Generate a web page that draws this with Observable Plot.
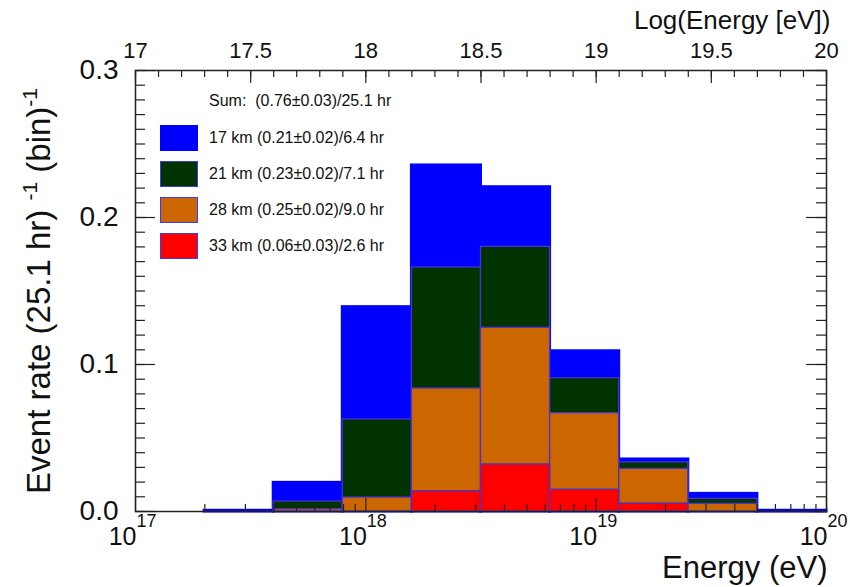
<!DOCTYPE html>
<html><head><meta charset="utf-8">
<script src="https://cdn.jsdelivr.net/npm/d3@7"></script>
<script src="https://cdn.jsdelivr.net/npm/@observablehq/plot@0.6"></script>
<style>
body{margin:0;background:#fff;font-family:"Liberation Sans",Arial,sans-serif;}
#wrap{position:relative;width:850px;height:587px;}
.lg{position:absolute;font-size:16px;color:#111;white-space:pre;line-height:1;}
.sw{position:absolute;width:38px;height:26px;box-sizing:border-box;border:1px solid #3a3aff;}
</style></head><body><div id="wrap"></div>
<script>
// ---- data ----
const binLo = [17.3, 17.6, 17.9, 18.2, 18.5, 18.8, 19.1, 19.4, 19.7]; // log10(E) lower edges
const binWidth = 0.3;
const seriesNames = ["17 km", "21 km", "28 km", "33 km"];
const seriesLabels = ["17 km (0.21\u00b10.02)/6.4 hr", "21 km (0.23\u00b10.02)/7.1 hr", "28 km (0.25\u00b10.02)/9.0 hr", "33 km (0.06\u00b10.03)/2.6 hr"];
const sumLabel = "Sum:  (0.76\u00b10.03)/25.1 hr";
const rate17 = [0.0005, 0.0127, 0.0764, 0.0694, 0.0406, 0.0183, 0.0020, 0.0034, 0.0005];
const rate21 = [0, 0.0053, 0.0531, 0.0823, 0.0550, 0.0238, 0.0044, 0.0034, 0];
const rate28 = [0, 0.0015, 0.0095, 0.0699, 0.0930, 0.0521, 0.0236, 0.0052, 0];
const rate33 = [0, 0, 0, 0.0138, 0.0320, 0.0148, 0.0054, 0, 0];
const seriesColors = ["#0000ff", "#003300", "#cc6600", "#ff0000"];
const topTickValues = [17, 17.5, 18, 18.5, 19, 19.5, 20];
const topTickLabels = ["17", "17.5", "18", "18.5", "19", "19.5", "20"];
const yTickValues = [0, 0.1, 0.2, 0.3];
const yTickLabels = ["0.0", "0.1", "0.2", "0.3"];
const decades = [17, 18, 19, 20];
const decadeExponents = ["17", "18", "19", "20"];

// ---- cumulative (overlaid histograms, as drawn) ----
const rates = [rate17, rate21, rate28, rate33];
const cum = rates.map((r, i) => r.map((_, j) => d3.sum(rates.slice(i), s => s[j])));
const rows = [];
seriesNames.forEach((s, i) => binLo.forEach((lo, j) => {
  if (cum[i][j] > 0) rows.push({series: s, idx: i, lo, hi: lo + binWidth, top: cum[i][j]});
}));

// tick positions
const bottomMinor = [], bottomMajor = [];
for (let n = 17; n <= 19; n++) for (let m = 2; m <= 9; m++) bottomMinor.push(m * 10 ** n);
decades.forEach(d => bottomMajor.push(10 ** d));
const topMinor = d3.range(170, 201).map(v => 10 ** (v / 10));
const topMajor = topTickValues.map(v => 10 ** v);
const yMinor = d3.range(0, 31).map(v => v / 100);

const W = 850, H = 587, mL = 135, mR = 24, mT = 70, mB = 76;
const fw = W - mL - mR, fh = H - mT - mB;
const ink = "#222";

const chart = Plot.plot({
  width: W, height: H, marginLeft: mL, marginRight: mR, marginTop: mT, marginBottom: mB,
  style: {fontFamily: "'Liberation Sans', Arial, sans-serif", color: "#111", background: "#fff"},
  x: {type: "log", domain: [1e17, 1e20], axis: null},
  y: {domain: [0, 0.3], axis: null},
  marks: [
    ...seriesNames.map((s, i) => Plot.rect(rows.filter(r => r.idx === i), {
      x1: d => 10 ** d.lo, x2: d => 10 ** d.hi, y1: 0, y2: "top",
      fill: seriesColors[i], stroke: i === 0 ? "#0000ff" : "#4433cc", strokeWidth: i === 0 ? 3 : 1.3
    })),
    Plot.frame({stroke: ink, strokeWidth: 1.5}),
    Plot.tickX(bottomMinor, {x: d => d, insetTop: fh - 7, stroke: ink, strokeWidth: 1.2}),
    Plot.tickX(bottomMajor, {x: d => d, insetTop: fh - 13, stroke: ink, strokeWidth: 1.2}),
    Plot.tickX(topMinor, {x: d => d, insetBottom: fh - 7, stroke: ink, strokeWidth: 1.2}),
    Plot.tickX(topMajor, {x: d => d, insetBottom: fh - 13, stroke: ink, strokeWidth: 1.2}),
    Plot.tickY(yMinor, {y: d => d, insetRight: fw - 10, stroke: ink, strokeWidth: 1.2}),
    Plot.tickY(yTickValues, {y: d => d, insetRight: fw - 20, stroke: ink, strokeWidth: 1.2}),
    Plot.tickY(yMinor, {y: d => d, insetLeft: fw - 10, stroke: ink, strokeWidth: 1.2}),
    Plot.tickY(yTickValues, {y: d => d, insetLeft: fw - 20, stroke: ink, strokeWidth: 1.2}),
    Plot.text(yTickValues, {y: d => d, text: (d, i) => yTickLabels[i], frameAnchor: "left", dx: -17, textAnchor: "end", lineAnchor: "middle", fontSize: 28}),
    Plot.text(topTickValues, {x: d => 10 ** d, text: (d, i) => topTickLabels[i], frameAnchor: "top", dy: -20, textAnchor: "middle", lineAnchor: "middle", fontSize: 22}),
    Plot.text(decades, {x: d => 10 ** d, text: () => "10", frameAnchor: "bottom", dy: 25, dx: 1, textAnchor: "end", lineAnchor: "middle", fontSize: 25}),
    Plot.text(decades, {x: d => 10 ** d, text: (d, i) => decadeExponents[i], frameAnchor: "bottom", dy: 10, dx: 1, textAnchor: "start", lineAnchor: "middle", fontSize: 18}),
    Plot.text(["Energy (eV)"], {frameAnchor: "bottom-right", dy: 57, dx: 1, textAnchor: "end", lineAnchor: "middle", fontSize: 31}),
    Plot.text(["Log(Energy [eV])"], {frameAnchor: "top-right", dy: -50, dx: 4, textAnchor: "end", lineAnchor: "middle", fontSize: 26}),
    Plot.text(["Event rate (25.1 hr)"], {frameAnchor: "left", rotate: -90, dx: -96, dy: 0, textAnchor: "middle", lineAnchor: "middle", fontSize: 33})
  ]
});

// superscripts in the y label
d3.select(chart).selectAll("text").filter(function() { return this.textContent === "Event rate (25.1 hr)"; })
  .each(function() {
    const t = d3.select(this);
    t.text(null);
    t.append("tspan").text("Event rate (25.1 hr) ");
    t.append("tspan").attr("dy", -13).attr("font-size", 21).text("-1");
    t.append("tspan").attr("dy", 13).text(" (bin)");
    t.append("tspan").attr("dy", -13).attr("font-size", 21).text("-1");
  });

const wrap = document.getElementById("wrap");
wrap.appendChild(chart);

// legend (inside the frame, top-left)
const sum = document.createElement("div");
sum.className = "lg"; sum.style.left = "209px"; sum.style.top = "93px"; sum.textContent = sumLabel;
wrap.appendChild(sum);
seriesLabels.forEach((lab, i) => {
  const top = 125 + 36 * i;
  const sw = document.createElement("div");
  sw.className = "sw"; sw.style.left = "160px"; sw.style.top = top + "px"; sw.style.background = seriesColors[i];
  if (i === 0) sw.style.borderColor = "#0000ff";
  wrap.appendChild(sw);
  const tx = document.createElement("div");
  tx.className = "lg"; tx.style.left = "209px"; tx.style.top = (top + 5) + "px"; tx.textContent = lab;
  wrap.appendChild(tx);
});
</script></body></html>
